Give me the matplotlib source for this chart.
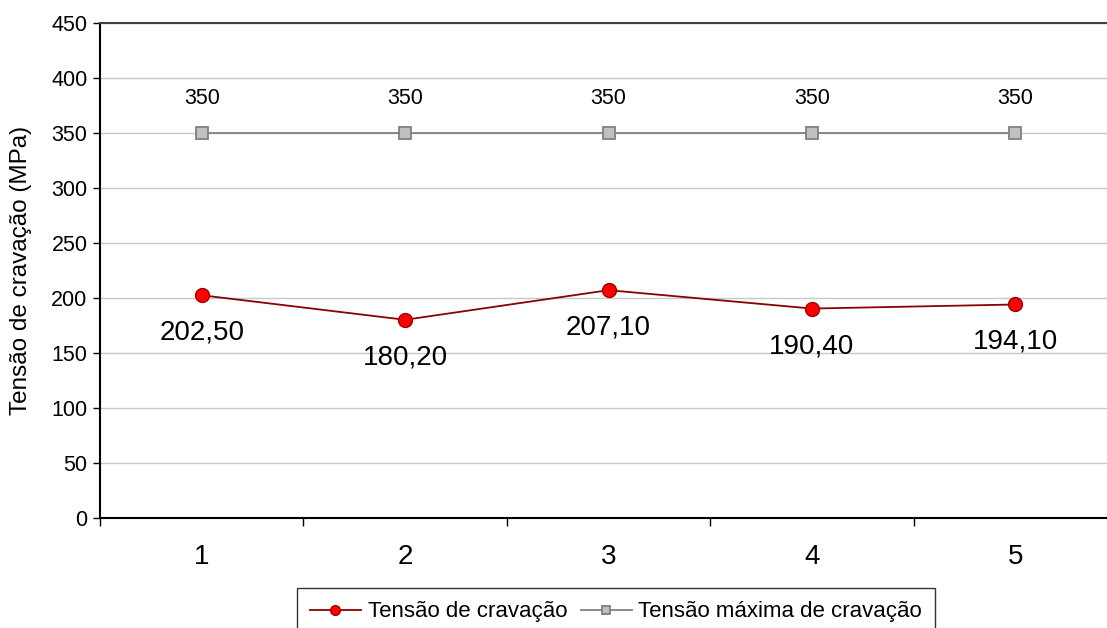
import matplotlib
matplotlib.use("Agg")
import matplotlib.pyplot as plt
import numpy as np

plt.rcParams['font.family'] = ['Liberation Sans', 'DejaVu Sans']

# dados
ensaios = [1, 2, 3, 4, 5]
tensao = [202.50, 180.20, 207.10, 190.40, 194.10]
tensao_max = [350, 350, 350, 350, 350]
y_ticks = [0, 50, 100, 150, 200, 250, 300, 350, 400, 450]

fig = plt.figure(figsize=(11.07, 6.28), dpi=100)
ax = fig.add_axes([100 / 1107, 1 - 518 / 628, 1017 / 1107, 495 / 628])

ax.set_xlim(0.5, 5.5)
ax.set_ylim(0, 450)
ax.set_yticks(y_ticks)
ax.yaxis.grid(True, color='#c8c8c8', linewidth=1)
ax.set_axisbelow(True)

# linhas
ax.plot(ensaios, tensao, color='#8b0000', linewidth=1.3, marker='o',
        markersize=10, markerfacecolor='#ff0000', markeredgecolor='#a00000',
        markeredgewidth=1, label='Tensão de cravação', zorder=3)
ax.plot(ensaios, tensao_max, color='#808080', linewidth=1.3, marker='s',
        markersize=9, markerfacecolor='#c0c0c0', markeredgecolor='#808080',
        markeredgewidth=1.3, label='Tensão máxima de cravação', zorder=3)

# rótulos de dados
for x, v in zip(ensaios, tensao):
    ax.annotate(f'{v:.2f}'.replace('.', ','), (x, v), xytext=(0, -27),
                textcoords='offset points', ha='center', va='center',
                fontsize=20)
for x, v in zip(ensaios, tensao_max):
    ax.annotate(f'{v}', (x, v), xytext=(0, 25), textcoords='offset points',
                ha='center', va='center', fontsize=15.5)

# eixos
ax.set_xticks(ensaios)
ax.set_xticklabels([str(e) for e in ensaios], fontsize=20)
ax.set_xticks(np.arange(0.5, 6.0, 1.0), minor=True)
ax.tick_params(axis='x', which='major', length=0, pad=19)
ax.tick_params(axis='x', which='minor', length=6, width=1, direction='out')
ax.tick_params(axis='y', length=5, width=1, labelsize=15.5, pad=4)

for s in ['left', 'bottom']:
    ax.spines[s].set_color('black')
    ax.spines[s].set_linewidth(1.5)
ax.spines['top'].set_color('#404040')
ax.spines['top'].set_linewidth(1.5)
ax.spines['right'].set_visible(False)

ax.set_ylabel('Tensão de cravação (MPa)', fontsize=17.5)
ax.yaxis.set_label_coords(-68 / 1017, 0.5)

leg = fig.legend(loc='upper center', bbox_to_anchor=(616 / 1107, 1 - 588 / 628),
                 bbox_transform=fig.transFigure, ncol=2, fontsize=16,
                 frameon=True, fancybox=False, edgecolor='black',
                 handlelength=2.3, columnspacing=0.6, handletextpad=0.3,
                 borderpad=0.6, borderaxespad=0, markerscale=0.7)
leg.get_frame().set_linewidth(1)

fig.savefig('out.png', dpi=100)
